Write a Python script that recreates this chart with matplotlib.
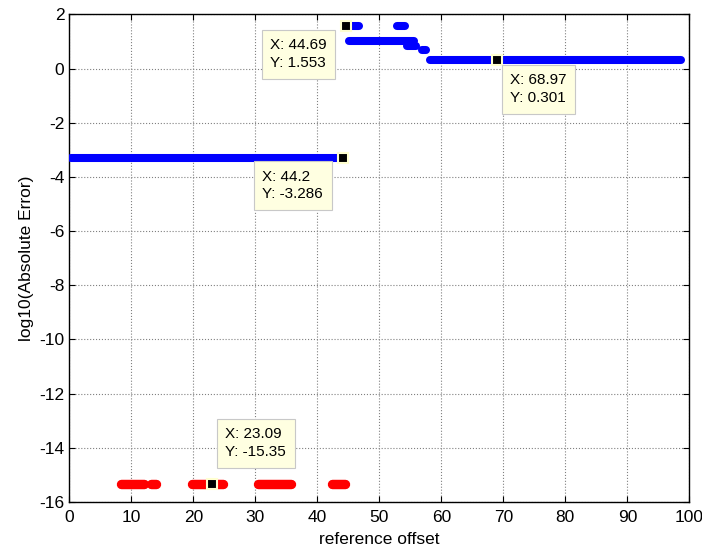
import matplotlib.pyplot as plt
import numpy as np

plt.rcParams['font.family'] = ['Liberation Sans', 'DejaVu Sans']
plt.rcParams['axes.unicode_minus'] = False

# blue runs of points: start x, end x, log10 error
blue_x0 = [0.2, 44.69, 52.9, 45.1, 54.5, 56.9, 58.2]
blue_x1 = [44.2, 46.7, 54.1, 55.6, 55.9, 57.5, 98.7]
blue_y = [-3.286, 1.553, 1.57, 1.02, 0.83, 0.70, 0.301]

# red runs of points
red_x0 = [8.4, 13.2, 19.8, 30.4, 42.4]
red_x1 = [12.0, 14.0, 24.8, 35.8, 44.5]
red_y = -15.35

# data tips
tip_x = [44.69, 68.97, 44.2, 23.09]
tip_y = [1.553, 0.301, -3.286, -15.35]
tip_xlab = ['44.69', '68.97', '44.2', '23.09']
tip_ylab = ['1.553', '0.301', '-3.286', '-15.35']
tip_off = [(-76, -12), (13, -13), (-81, -12), (13, 57)]

fig = plt.figure(figsize=(7.02, 5.53), dpi=100)
ax = fig.add_axes([0.0987, 0.0922, 0.8833, 0.8818])

for x0, x1, y in zip(blue_x0, blue_x1, blue_y):
    ax.plot([x0, x1], [y, y], color='#0000ff', lw=5.8, solid_capstyle='round', zorder=3)
for x0, x1 in zip(red_x0, red_x1):
    ax.plot([x0, x1], [red_y, red_y], color='#ff0000', lw=6.8, solid_capstyle='round', zorder=3)

for x, y, xl, yl, off in zip(tip_x, tip_y, tip_xlab, tip_ylab, tip_off):
    ax.plot(x, y, 's', color='black', ms=7.5, mec='#ffffd0', mew=1.5, zorder=5)
    ax.annotate('X: %s\nY: %s' % (xl, yl), xy=(x, y), xytext=off,
                textcoords='offset pixels', ha='left', va='top', fontsize=11,
                linespacing=1.35, zorder=6,
                bbox=dict(boxstyle='square,pad=0.55', fc='#ffffe1', ec='#c8c8c8', lw=0.8))

ax.set_xlim(0, 100)
ax.set_ylim(-16, 2)
ax.set_xticks(np.arange(0, 101, 10))
ax.set_yticks(np.arange(-16, 3, 2))
ax.tick_params(direction='in', top=True, right=True, length=4, labelsize=12.5, width=0.8)
ax.tick_params(axis='x', pad=6)
ax.grid(True, color='#808080', linestyle=':', linewidth=0.8)
for s in ax.spines.values():
    s.set_linewidth(1.0)

ax.set_xlabel('reference offset', fontsize=12.5, labelpad=5)
ax.set_ylabel('log10(Absolute Error)', fontsize=12.5, labelpad=4)

fig.savefig('out.png', dpi=100)
